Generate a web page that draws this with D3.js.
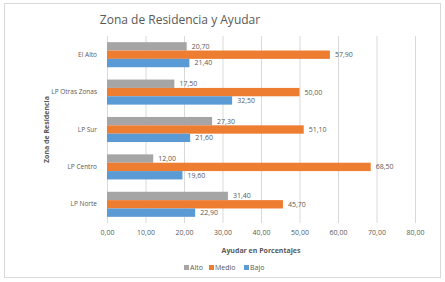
<!DOCTYPE html>
<html>
<head>
<meta charset="utf-8">
<script src="https://cdn.jsdelivr.net/npm/d3@7"></script>
<style>
  body { margin: 0; background: #fff; }
  svg { font-family: 'Open Sans', 'Liberation Sans', sans-serif; }
</style>
</head>
<body>
<script>
(function () {
  'use strict'

  // data
  var zonas = ['El Alto', 'LP Otras Zonas', 'LP Sur', 'LP Centro', 'LP Norte']
  var series = ['Alto', 'Medio', 'Bajo']
  var alto = [20.7, 17.5, 27.3, 12.0, 31.4]
  var medio = [57.9, 50.0, 51.1, 68.5, 45.7]
  var bajo = [21.4, 32.5, 21.6, 19.6, 22.9]
  var xTicks = [0, 10, 20, 30, 40, 50, 60, 70, 80]
  var colors = ['#a5a5a5', '#ed7d31', '#5b9bd5']

  var values = { Alto: alto, Medio: medio, Bajo: bajo }

  var dim = { w: 445, h: 282 }
  var plot = { left: 107, right: 415, top: 36, bottom: 223 }

  var svg = d3.select('body').append('svg')
    .attr('width', dim.w)
    .attr('height', dim.h)

  svg.append('rect')
    .attr('x', 4.5).attr('y', 3.5)
    .attr('width', 436).attr('height', 274)
    .attr('fill', '#fff')
    .attr('stroke', '#d9d9d9')

  var x = d3.scaleLinear().domain([0, 80]).range([plot.left, plot.right])
  var y = d3.scaleBand().domain(zonas).range([plot.top, plot.bottom])
    .paddingInner(0.33).paddingOuter(0.165)
  var ySub = d3.scaleBand().domain(series).range([0, y.bandwidth()])

  var fmt = function (v) { return d3.format('.2f')(v).replace('.', ',') }

  // grid
  svg.append('g').selectAll('line').data(xTicks).enter().append('line')
    .attr('x1', function (d) { return x(d) + 0.5 })
    .attr('x2', function (d) { return x(d) + 0.5 })
    .attr('y1', plot.top).attr('y2', plot.bottom)
    .attr('stroke', '#d9d9d9')

  // bottom tick labels
  var xAxis = d3.axisBottom(x).tickValues(xTicks).tickFormat(fmt).tickSize(0).tickPadding(0)
  var gx = svg.append('g')
    .attr('transform', 'translate(0,' + 230 + ')')
    .call(xAxis)
  gx.select('.domain').remove()
  gx.selectAll('text')
    .attr('font-size', 7).attr('fill', '#595959')
    .attr('font-family', 'Open Sans, sans-serif')

  // category labels
  var yAxis = d3.axisLeft(y).tickSize(0).tickPadding(0)
  var gy = svg.append('g')
    .attr('transform', 'translate(97,0)')
    .call(yAxis)
  gy.select('.domain').remove()
  gy.selectAll('text')
    .attr('font-size', 6.5).attr('fill', '#595959')
    .attr('font-family', 'Open Sans, sans-serif')

  // bars
  var groups = svg.append('g').selectAll('g').data(zonas).enter().append('g')
    .attr('transform', function (d) { return 'translate(0,' + y(d) + ')' })

  groups.selectAll('rect')
    .data(function (d, i) { return series.map(function (s) { return { s: s, v: values[s][i] } }) })
    .enter().append('rect')
    .attr('x', x(0))
    .attr('y', function (d) { return ySub(d.s) })
    .attr('width', function (d) { return x(d.v) - x(0) })
    .attr('height', ySub.bandwidth())
    .attr('fill', function (d) { return colors[series.indexOf(d.s)] })

  groups.selectAll('text')
    .data(function (d, i) { return series.map(function (s) { return { s: s, v: values[s][i] } }) })
    .enter().append('text')
    .attr('x', function (d) { return x(d.v) + 5 })
    .attr('y', function (d) { return ySub(d.s) + ySub.bandwidth() / 2 })
    .attr('dy', '0.35em')
    .attr('font-size', 7)
    .attr('fill', '#595959')
    .text(function (d) { return fmt(d.v) })

  // titles
  svg.append('text')
    .attr('x', 180).attr('y', 24)
    .attr('text-anchor', 'middle')
    .attr('font-size', 12)
    .attr('fill', '#595959')
    .text('Zona de Residencia y Ayudar')

  svg.append('text')
    .attr('x', 261).attr('y', 253)
    .attr('text-anchor', 'middle')
    .attr('font-size', 7)
    .attr('font-weight', 'bold')
    .attr('fill', '#595959')
    .text('Ayudar en Porcentajes')

  svg.append('text')
    .attr('transform', 'translate(49,' + ((plot.top + plot.bottom) / 2) + ') rotate(-90)')
    .attr('text-anchor', 'middle')
    .attr('font-size', 7)
    .attr('font-weight', 'bold')
    .attr('fill', '#595959')
    .text('Zona de Residencia')

  // legend
  var legX = [184, 209, 244]
  var leg = svg.append('g').selectAll('g').data(series).enter().append('g')
    .attr('transform', function (d, i) { return 'translate(' + legX[i] + ',268)' })
  leg.append('rect')
    .attr('x', 0).attr('y', -3).attr('width', 5).attr('height', 5)
    .attr('fill', function (d, i) { return colors[i] })
  leg.append('text')
    .attr('x', 6).attr('y', 0).attr('dy', '0.35em')
    .attr('font-size', 7)
    .attr('fill', '#595959')
    .text(function (d) { return d })
}())
</script>
</body>
</html>
